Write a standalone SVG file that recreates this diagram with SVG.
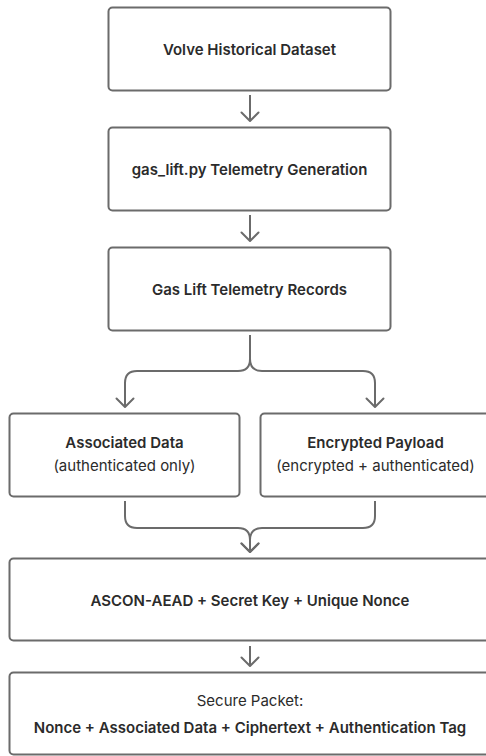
<svg xmlns="http://www.w3.org/2000/svg" width="486" height="756" viewBox="0 0 486 756">
<defs>
<marker id="ah" markerUnits="userSpaceOnUse" markerWidth="20" markerHeight="20" viewBox="-10 -10 20 20" refX="0" refY="0" orient="auto">
<path d="M-8.5,-8.5 L0,0 L-8.5,8.5" fill="none" stroke="#6b6b6b" stroke-width="2" stroke-linecap="round" stroke-linejoin="round"/>
</marker>
<style>
.box{fill:#fff;stroke:#6b6b6b;stroke-width:2}
.t{font-family:Inter,"Liberation Sans",sans-serif;font-size:15px;fill:#2b2b2b;text-anchor:middle}
.b{font-weight:600}
.c{fill:none;stroke:#6b6b6b;stroke-width:2;marker-end:url(#ah)}
</style>
</defs>
<rect width="486" height="756" fill="#fff"/>
<g id="n1"><rect class="box" x="108.5" y="7.5" width="282" height="83" rx="4"/><text class="t b" x="249.5" y="54.5">Volve Historical Dataset</text></g>
<g id="n2"><rect class="box" x="108.5" y="127.5" width="282" height="83" rx="4"/><text class="t b" x="249.5" y="174.5">gas_lift.py Telemetry Generation</text></g>
<g id="n3"><rect class="box" x="108.5" y="247.5" width="282" height="83" rx="4"/><text class="t b" x="249.5" y="294.5">Gas Lift Telemetry Records</text></g>
<g id="n4"><rect class="box" x="9.5" y="413.5" width="230" height="83" rx="4"/><text class="t b" x="124.5" y="448">Associated Data</text><text class="t" x="124.5" y="471">(authenticated only)</text></g>
<g id="n5"><rect class="box" x="260.5" y="413.5" width="230" height="83" rx="4"/><text class="t b" x="375.5" y="448">Encrypted Payload</text><text class="t" x="375.5" y="471">(encrypted + authenticated)</text></g>
<g id="n6"><rect class="box" x="9.5" y="558.5" width="481" height="82" rx="4"/><text class="t b" x="250" y="605.5">ASCON-AEAD + Secret Key + Unique Nonce</text></g>
<g id="n7"><rect class="box" x="9.5" y="672.5" width="481" height="82" rx="4"/><text class="t" x="250" y="706">Secure Packet:</text><text class="t b" x="250" y="733">Nonce + Associated Data + Ciphertext + Authentication Tag</text></g>
<g id="connectors">
<path class="c" d="M250,95 V121"/>
<path class="c" d="M250,215 V241"/>
<path class="c" d="M250,335 V359 Q250,371 238,371 H137 Q125,371 125,383 V407"/>
<path class="c" d="M250,335 V359 Q250,371 262,371 H363 Q375,371 375,383 V407"/>
<path class="c" d="M125,501 V516 Q125,528 137,528 H238 Q250,528 250,540 V552"/>
<path class="c" d="M375,501 V516 Q375,528 363,528 H262 Q250,528 250,540 V552"/>
<path class="c" d="M250,646 V666"/>
</g>
</svg>
